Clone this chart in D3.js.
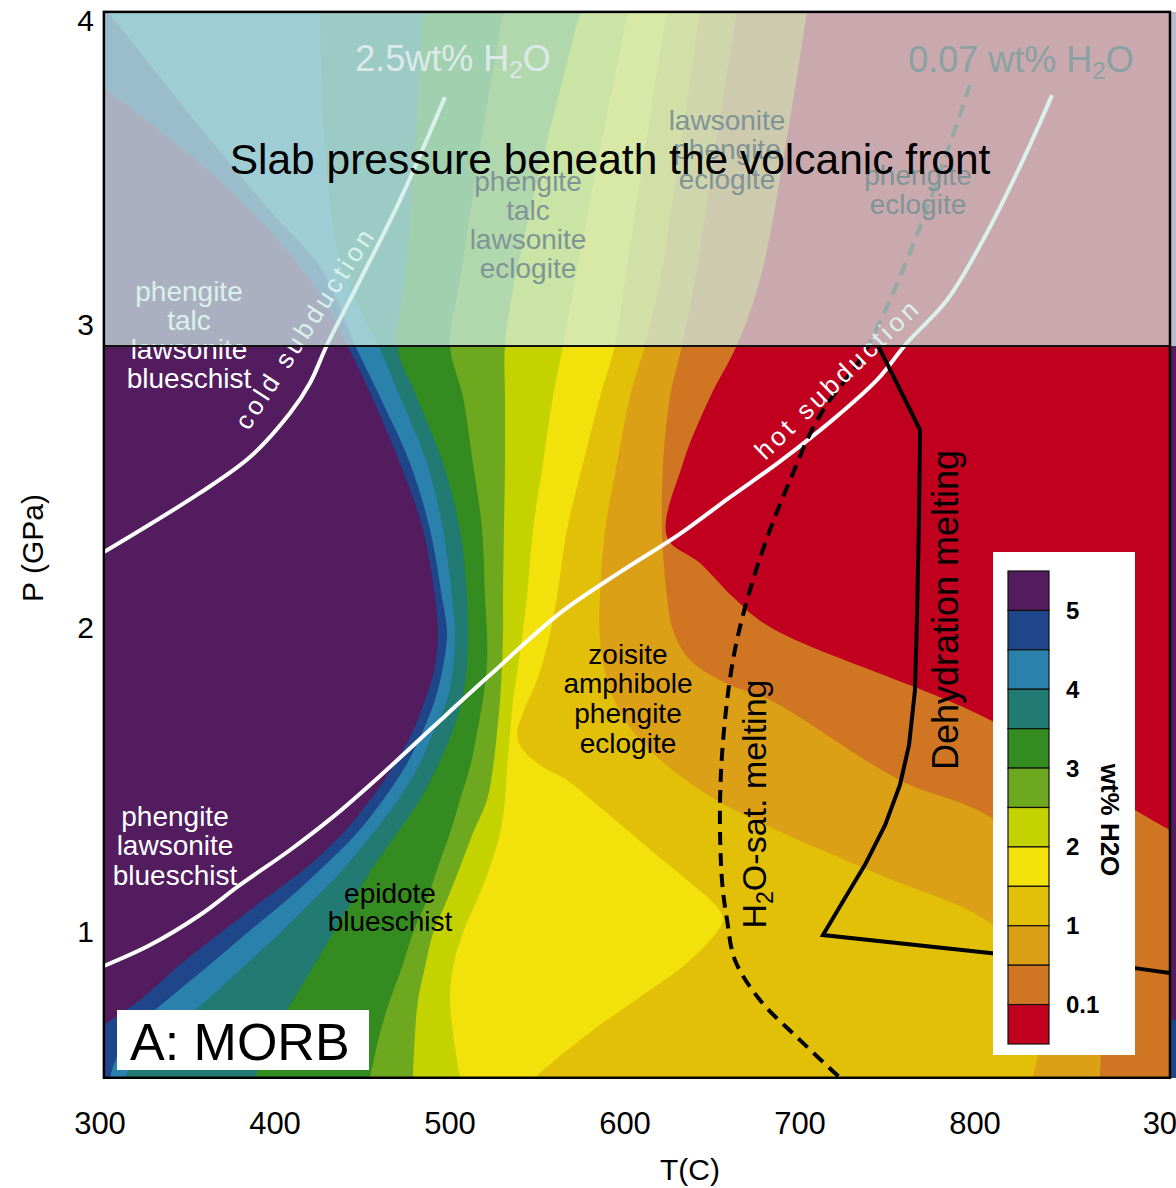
<!DOCTYPE html>
<html lang="en">
<head>
<meta charset="UTF-8">
<title>MORB - wt% H2O</title>
<script src="https://d3js.org/d3.v7.min.js"></script>
<style>
  body { margin: 0; background: #fff; font-family: "Liberation Sans", Arial, sans-serif; }
  svg { display: block; }
</style>
</head>
<body>
<svg id="chart" width="1176" height="1188"></svg>
<script>
// axis ticks
const tempTicks = [300, 400, 500, 600, 700, 800];
const presTicks = [1, 2, 3, 4];

// colour bands (wettest first) and the wt% H2O edges between them
const bandColors = ["#521c5e", "#1f468a", "#2a82ac", "#217b72", "#348b20", "#6ea81e",
                    "#c4d200", "#f2e10a", "#e3c008", "#dba016", "#d07622", "#c0001e"];
const bandEdges = [5, 4.5, 4, 3.5, 3, 2.5, 2, 1.5, 1, 0.5, 0.1];
const legendTicks = [5, 4, 3, 2, 1, 0.1];

// contour edges as [T (C), P (GPa)], top to bottom
const edge50 = [[302.5,3.78],[376.3,3.434],[424.3,3.114],[441.4,2.933],[455.7,2.762],[471.7,2.544],[484.9,2.324],[491.7,2.103],[493.4,1.985],[491.7,1.873],[486,1.764],[478.6,1.655],[467.7,1.543],[454.6,1.435],[439.1,1.326],[418.6,1.214],[393.4,1.105],[368.9,0.997],[344.3,0.885],[323.1,0.776],[302.5,0.694]];
const edge45 = [[304.9,4.03],[364.9,3.598],[395.7,3.387],[426,3.19],[440.3,3.015],[446,2.933],[460.3,2.762],[477.4,2.544],[488.9,2.324],[495.7,2.103],[498.6,1.985],[496.3,1.873],[491.7,1.764],[484.3,1.655],[474.6,1.543],[462,1.435],[447.1,1.326],[427.7,1.214],[407.1,1.105],[384.3,0.997],[361.4,0.885],[338.6,0.776],[317.4,0.667],[307.7,0.555],[306,0.52]];
const edge40 = [[426,4.03],[428.9,3.575],[437.4,3.213],[451.7,3.015],[459.1,2.933],[471.7,2.762],[487.1,2.544],[496.3,2.324],[501.4,2.103],[503.1,1.985],[502,1.873],[498.6,1.764],[490.6,1.655],[482,1.543],[470.6,1.435],[456.3,1.326],[440.3,1.214],[422,1.105],[403.1,0.997],[382,0.885],[361.4,0.776],[338.6,0.667],[315.7,0.536],[314.6,0.52]];
const edge35 = [[484.9,4.03],[480.3,3.575],[474.6,3.147],[470,2.933],[481.4,2.762],[496.3,2.544],[506,2.324],[510,2.103],[510.6,1.985],[510,1.873],[507.1,1.764],[501.4,1.655],[492.9,1.543],[483.1,1.435],[470,1.326],[456.3,1.214],[444.9,1.105],[433.4,0.997],[422,0.885],[410.6,0.776],[399.1,0.667],[388.9,0.52]];
const edge30 = [[530.6,4.03],[517.4,3.575],[506,3.147],[500.3,2.933],[507.7,2.762],[513.4,2.544],[518.6,2.324],[520.3,2.103],[521.4,1.985],[521.4,1.873],[519.1,1.764],[515.7,1.655],[511.7,1.543],[506,1.435],[500.3,1.326],[493.4,1.214],[487.1,1.105],[479.1,0.997],[472.9,0.885],[466,0.776],[460.3,0.667],[454.6,0.52]];
const edge25 = [[574.6,4.03],[554.6,3.575],[537.4,3.147],[531.7,2.933],[531.7,2.762],[531.7,2.544],[531.1,2.324],[530.6,2.103],[530.6,1.985],[530,1.873],[528.9,1.764],[527.1,1.655],[524.9,1.543],[521.4,1.435],[513.4,1.326],[506,1.214],[498.6,1.105],[490.6,0.997],[486,0.885],[482,0.776],[480.3,0.667],[479.1,0.52]];
const edge20 = [[602,4.03],[586,3.575],[571.7,3.147],[564.9,2.933],[559.1,2.762],[553.4,2.544],[547.7,2.324],[544.3,2.103],[542,1.994],[539.1,1.873],[536.3,1.764],[534.6,1.655],[532.9,1.543],[531.7,1.435],[528.9,1.326],[523.1,1.214],[515.7,1.105],[507.7,0.997],[502,0.885],[500.3,0.776],[502,0.667],[506,0.52]];
const edge15 = [[624.3,4.03],[611.7,3.575],[600.3,3.147],[594.6,2.933],[586,2.762],[576.3,2.544],[567.1,2.324],[561.4,2.103],[555.7,1.939],[550,1.83],[542,1.721],[538.6,1.649],[542,1.599],[553.4,1.543],[567.1,1.5],[590,1.392],[612.9,1.28],[635.7,1.171],[652.9,1.082],[656.3,1.04],[650.6,0.984],[635.7,0.898],[608.9,0.786],[582,0.677],[551.7,0.536],[548.9,0.52]];
const edge10 = [[643.1,4.03],[631.7,3.575],[620.3,3.147],[611.7,2.933],[603.1,2.762],[595.7,2.544],[588.9,2.324],[586,2.103],[586,1.962],[591.7,1.797],[608.9,1.632],[643.1,1.468],[683.1,1.346],[746,1.188],[808.9,1.03],[837.4,0.842],[837.4,0.644],[833.4,0.52]];
const edge05 = [[664.3,4.03],[651.7,3.575],[640.3,3.147],[632.9,2.933],[626,2.762],[622,2.544],[621.4,2.324],[624.3,2.103],[627.7,1.994],[637.4,1.896],[660.3,1.813],[683.1,1.764],[757.4,1.5],[808.9,1.379],[860.3,1.105],[871.7,0.776],[871.7,0.52]];
const edge01 = [[704.3,4.03],[691.7,3.575],[677.4,3.147],[664.3,2.933],[648.9,2.762],[633.4,2.544],[624.3,2.301],[643.1,2.215],[662,2.103],[683.1,2.004],[808.9,1.698],[891.7,1.402],[911.7,1.336]];
const bandBoundaries = [edge50, edge45, edge40, edge35, edge30, edge25, edge20, edge15, edge10, edge05, edge01];

// subduction geotherms and melting curves, [T, P]
const coldSubduction = [[302.5,2.251],[357.4,2.446],[386,2.564],[408.9,2.709],[420.3,2.808],[430,2.933],[448.9,3.147],[471.7,3.41],[497.4,3.75]];
const hotSubduction = [[302.5,0.888],[328.9,0.957],[357.4,1.056],[380.3,1.155],[408.9,1.27],[433.4,1.379],[460.3,1.514],[490.6,1.675],[523.1,1.846],[563.1,2.05],[597.4,2.185],[631.7,2.311],[660.3,2.432],[688.9,2.55],[717.4,2.679],[744.3,2.818],[761.4,2.94],[784.3,3.081],[804.9,3.279],[827.7,3.542],[844.3,3.756]];
const wetSolidus = [[797.4,3.789],[774.6,3.41],[751.7,3.081],[734.6,2.884],[717.4,2.752],[707.1,2.653],[694.6,2.488],[683.1,2.324],[671.7,2.126],[663.1,1.929],[657.4,1.698],[654.6,1.435],[655.7,1.171],[658.6,1.04],[663.1,0.908],[677.4,0.776],[700.3,0.644],[723.1,0.52]];
const dehydrationMelting = [[745,2.93],[768.9,2.653],[768.3,2.357],[767.1,2.03],[766,1.797],[762.6,1.616],[757.4,1.484],[748.9,1.352],[737.4,1.221],[726,1.112],[713.4,0.99],[808.9,0.931],[891.7,0.881],[911.7,0.865]];

// plot extent and slab-pressure window
const tMin = 302.5, tMax = 911.7, pMin = 0.52, pMax = 4.03;
const slabPressure = 2.93;

const svg = d3.select("#chart");
const x = d3.scaleLinear().domain([300, 900]).range([99.5, 1149.5]);
const y = d3.scaleLinear().domain([1, 4]).range([932, 21]);

const plotLeft = x(tMin), plotRight = x(tMax), plotTop = y(pMax), plotBottom = y(pMin);

svg.append("clipPath").attr("id", "plotClip")
  .append("rect").attr("x", plotLeft).attr("y", plotTop)
  .attr("width", plotRight - plotLeft).attr("height", plotBottom - plotTop);

const plot = svg.append("g").attr("clip-path", "url(#plotClip)");

const smooth = d3.line().x(d => x(d[0])).y(d => y(d[1])).curve(d3.curveCatmullRom.alpha(0.5));
const straight = d3.line().x(d => x(d[0])).y(d => y(d[1]));

// close a boundary round the lower-left side of the plot
function regionPath(pts) {
  const first = pts[0], last = pts[pts.length - 1];
  const corners = [];
  const onRight = Math.abs(last[0] - tMax) < 0.5;
  if (onRight) corners.push([tMax, pMin]);
  if (onRight || Math.abs(last[1] - pMin) < 0.02) corners.push([tMin, pMin]);
  if (Math.abs(first[1] - pMax) < 0.02) corners.push([tMin, pMax]);
  let d = smooth(pts);
  corners.forEach(c => { d += `L${x(c[0])},${y(c[1])}`; });
  return d + "Z";
}

// driest band fills everything, wetter regions drawn on top
plot.append("rect").attr("x", plotLeft).attr("y", plotTop)
  .attr("width", plotRight - plotLeft).attr("height", plotBottom - plotTop)
  .attr("fill", bandColors[bandColors.length - 1]);

for (let k = bandBoundaries.length - 1; k >= 0; k--) {
  plot.append("path").attr("d", regionPath(bandBoundaries[k])).attr("fill", bandColors[k]);
}

// labels that sit partly under the slab-pressure window
function block(g, lines, cx, cy, step, size, color) {
  lines.forEach((t, i) => {
    g.append("text").attr("x", cx).attr("y", cy + i * step)
      .attr("text-anchor", "middle").attr("dominant-baseline", "central")
      .attr("font-size", size).attr("fill", color).text(t);
  });
}
block(plot, ["phengite", "talc", "lawsonite", "blueschist"], 189, 291, 29.3, 28, "#fff");

// lines
plot.append("path").attr("d", smooth(coldSubduction)).attr("fill", "none")
  .attr("stroke", "#fff").attr("stroke-width", 4);
plot.append("path").attr("d", smooth(hotSubduction)).attr("fill", "none")
  .attr("stroke", "#fff").attr("stroke-width", 4);
plot.append("path").attr("d", smooth(wetSolidus)).attr("fill", "none")
  .attr("stroke", "#000").attr("stroke-width", 4).attr("stroke-dasharray", "13,8");
plot.append("path").attr("d", straight(dehydrationMelting)).attr("fill", "none")
  .attr("stroke", "#000").attr("stroke-width", 4).attr("stroke-linejoin", "miter");

function alongLine(text, T, P, angle, len) {
  plot.append("text")
    .attr("transform", `translate(${x(T)},${y(P)}) rotate(${angle})`)
    .attr("text-anchor", "middle").attr("dominant-baseline", "central")
    .attr("font-size", 26).attr("fill", "#fff")
    .attr("textLength", len).attr("lengthAdjust", "spacing")
    .text(text);
}
alongLine("cold subduction", 417, 2.985, -57, 232);
alongLine("hot subduction", 721, 2.818, -44, 215);

// slab pressure window
plot.append("rect").attr("x", plotLeft).attr("y", plotTop)
  .attr("width", plotRight - plotLeft).attr("height", y(slabPressure) - plotTop)
  .attr("fill", "#cceae4").attr("opacity", 0.72);
plot.append("line").attr("x1", plotLeft).attr("x2", plotRight)
  .attr("y1", y(slabPressure)).attr("y2", y(slabPressure))
  .attr("stroke", "#111").attr("stroke-width", 2);

// faded labels inside the window
function h2o(g, pre, cx, cy, size, color) {
  const t = g.append("text").attr("x", cx).attr("y", cy)
    .attr("text-anchor", "middle").attr("font-size", size).attr("fill", color);
  t.append("tspan").text(pre + "H");
  t.append("tspan").attr("font-size", size * 0.68).attr("dy", size * 0.2).text("2");
  t.append("tspan").attr("dy", -size * 0.2).text("O");
}
h2o(plot, "2.5wt% ", 453, 71, 36, "#dce9ea");
h2o(plot, "0.07 wt% ", 1021, 72, 36, "#8aa1a3");
block(plot, ["lawsonite", "phengite", "eclogite"], 727, 120, 29.5, 28, "#7f9496");
block(plot, ["phengite", "talc", "lawsonite", "eclogite"], 528, 181, 29.3, 28, "#7f9496");
block(plot, ["phengite", "eclogite"], 918, 175, 29.5, 28, "#7f9496");

plot.append("text").attr("x", 610).attr("y", 174).attr("text-anchor", "middle")
  .attr("font-size", 42.5).attr("fill", "#000").text("Slab pressure beneath the volcanic front");

// assemblage labels
block(plot, ["zoisite", "amphibole", "phengite", "eclogite"], 628, 654, 29.7, 28, "#000");
block(plot, ["epidote", "blueschist"], 390, 893, 28.5, 28, "#000");
block(plot, ["phengite", "lawsonite", "blueschist"], 175, 816, 29.5, 28, "#fff");

const wet = plot.append("text").attr("transform", "translate(766,804) rotate(-90)")
  .attr("text-anchor", "middle").attr("font-size", 34).attr("fill", "#000");
wet.append("tspan").text("H");
wet.append("tspan").attr("font-size", 23).attr("dy", 7).text("2");
wet.append("tspan").attr("dy", -7).text("O-sat. melting");

plot.append("text").attr("transform", "translate(958,610) rotate(-90)")
  .attr("text-anchor", "middle").attr("font-size", 36).attr("fill", "#000")
  .text("Dehydration melting");

// panel tag
svg.append("rect").attr("x", 117).attr("y", 1010).attr("width", 252).attr("height", 60).attr("fill", "#fff");
svg.append("text").attr("x", 130).attr("y", 1060).attr("font-size", 52).attr("fill", "#000").text("A: MORB");

// colour legend
const legend = svg.append("g");
legend.append("rect").attr("x", 993).attr("y", 552).attr("width", 142).attr("height", 503).attr("fill", "#fff");
const ly = d3.scaleBand().domain(d3.range(bandColors.length)).range([571, 1044]);
legend.selectAll("rect.key").data(bandColors).join("rect").attr("class", "key")
  .attr("x", 1008).attr("y", (d, i) => ly(i)).attr("width", 41).attr("height", ly.bandwidth())
  .attr("fill", d => d).attr("stroke", "#111").attr("stroke-width", 1.2);
legend.selectAll("text.tick").data(legendTicks).join("text").attr("class", "tick")
  .attr("x", 1066).attr("y", d => ly(bandEdges.indexOf(d)) + ly.bandwidth())
  .attr("dominant-baseline", "central").attr("font-size", 24).attr("font-weight", "bold")
  .text(d => d);
legend.append("text").attr("transform", "translate(1110,820) rotate(90)")
  .attr("text-anchor", "middle").attr("dominant-baseline", "central")
  .attr("font-size", 26).attr("font-weight", "bold").text("wt% H2O");

// edge of the neighbouring panel
svg.append("rect").attr("x", plotRight + 1).attr("y", y(slabPressure)).attr("width", 6)
  .attr("height", plotBottom - y(slabPressure)).attr("fill", "#521c5e");
svg.append("rect").attr("x", plotRight + 1).attr("y", 1020).attr("width", 6).attr("height", plotBottom - 1020).attr("fill", "#1f468a");
svg.append("rect").attr("x", plotRight + 1).attr("y", plotTop).attr("width", 6)
  .attr("height", y(slabPressure) - plotTop).attr("fill", "#b9bccb");

// frame
svg.append("rect").attr("x", plotLeft).attr("y", plotTop)
  .attr("width", plotRight - plotLeft).attr("height", plotBottom - plotTop)
  .attr("fill", "none").attr("stroke", "#000").attr("stroke-width", 2.5);

// axes
const xAxis = svg.append("g").attr("transform", `translate(0,${plotBottom})`)
  .call(d3.axisBottom(x).tickValues(tempTicks).tickSize(0).tickPadding(34).tickFormat(d3.format("d")));
xAxis.select(".domain").remove();
xAxis.selectAll("text").attr("font-size", 31).attr("font-family", "Liberation Sans, Arial, sans-serif").attr("fill", "#000");
svg.append("text").attr("x", x(900) + 19).attr("y", plotBottom + 34).attr("dy", "0.71em")
  .attr("text-anchor", "middle").attr("font-size", 31).text("300");

const yAxis = svg.append("g").attr("transform", `translate(${plotLeft},0)`)
  .call(d3.axisLeft(y).tickValues(presTicks).tickSize(0).tickPadding(10).tickFormat(d3.format("d")));
yAxis.select(".domain").remove();
yAxis.selectAll("text").attr("font-size", 30).attr("font-family", "Liberation Sans, Arial, sans-serif").attr("fill", "#000");

svg.append("text").attr("x", 690).attr("y", 1180).attr("text-anchor", "middle")
  .attr("font-size", 30).text("T(C)");
svg.append("text").attr("transform", "translate(43,548) rotate(-90)")
  .attr("text-anchor", "middle").attr("font-size", 30).text("P (GPa)");
</script>
</body>
</html>
